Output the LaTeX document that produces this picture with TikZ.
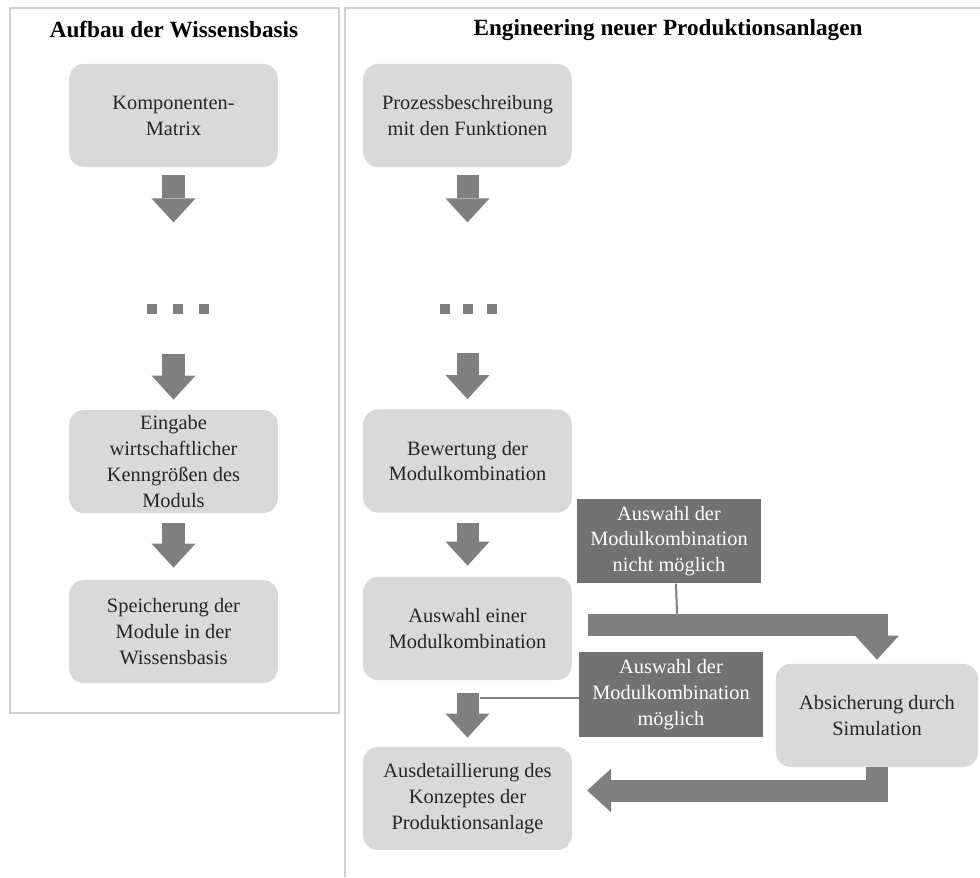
\documentclass[tikz,border=0pt]{standalone}
\usepackage{fontspec}
\setmainfont{Liberation Serif}
\usetikzlibrary{arrows.meta,calc}

\definecolor{boxfill}{HTML}{D9D9D9}
\definecolor{boxtext}{HTML}{262626}
\definecolor{hinweisfill}{HTML}{727272}
\definecolor{pfeilfill}{HTML}{7F7F7F}
\definecolor{rahmenline}{HTML}{D0D0D0}

\tikzset{
	schritt/.style={fill=boxfill, rounded corners=0.38cm, minimum width=5.22cm, minimum height=2.58cm, align=center, text=boxtext, font=\fontsize{14.5}{18.4}\selectfont},
	hinweis/.style={fill=hinweisfill, minimum width=4.6cm, minimum height=2.12cm, align=center, text=white, font=\fontsize{14.5}{18.4}\selectfont},
	titel/.style={font=\bfseries\fontsize{16.5}{20}\selectfont},
	pfeil/.style={draw=pfeilfill, line width=0.55cm, -{Triangle[width=1.1cm,length=0.6cm,line width=0pt]}},
	punkt/.style={fill=pfeilfill, minimum size=0.27cm, inner sep=0pt},
	linie/.style={draw=pfeilfill, line width=0.05cm},
	rahmen/.style={draw=rahmenline, line width=0.05cm}
}

\begin{document}
\begin{tikzpicture}[x=0.025cm, y=-0.025cm]
		\useasboundingbox (0, 0) rectangle (980, 877);
		\draw[rahmen] (10, 8) rectangle (339, 713);
		\draw[rahmen] (345, 877) -- (345, 8) -- (980, 8);

		\node[titel] (tlinks) at (174, 30) {Aufbau der Wissensbasis};
		\node[titel] (trechts) at (668, 30) {Engineering neuer Produktionsanlagen};

		\node[schritt] (komp) at (173.5, 115.5) {Komponenten-\\Matrix};
		\node[schritt] (eingabe) at (173.5, 461.5) {Eingabe\\wirtschaftlicher\\Kenngrößen des\\Moduls};
		\node[schritt] (speicher) at (173.5, 631.5) {Speicherung der\\Module in der\\Wissensbasis};

		\node[schritt] (prozess) at (467.5, 115.5) {Prozessbeschreibung\\mit den Funktionen};
		\node[schritt] (bewert) at (467.5, 461) {Bewertung der\\Modulkombination};
		\node[schritt] (auswahl) at (467.5, 628.5) {Auswahl einer\\Modulkombination};
		\node[schritt] (ausdet) at (467.5, 798.5) {Ausdetaillierung des\\Konzeptes der\\Produktionsanlage};
		\node[schritt, minimum width=5.05cm] (sim) at (877, 715.5) {Absicherung durch\\Simulation};

		\node[hinweis] (nicht) at (669, 541) {Auswahl der\\Modulkombination\\nicht möglich};
		\node[hinweis] (moegl) at (671, 694.5) {Auswahl der\\Modulkombination\\möglich};

		\foreach \x [count=\i] in {152, 178, 204}
			\node[punkt] (pl\i) at (\x, 309) {};
		\foreach \x [count=\i] in {445, 468, 492}
			\node[punkt] (pr\i) at (\x, 309) {};

		\draw[pfeil] ($(komp.south)+(0, 8)$) -- ++(0, 47);
		\draw[pfeil] ($(eingabe.north)+(0, -56)$) -- ($(eingabe.north)+(0, -10)$);
		\draw[pfeil] ($(eingabe.south)+(0, 10)$) -- ($(speicher.north)+(0, -12)$);

		\draw[pfeil] ($(prozess.south)+(0, 8)$) -- ++(0, 47);
		\draw[pfeil] ($(bewert.north)+(0, -56)$) -- ($(bewert.north)+(0, -10)$);
		\draw[pfeil] ($(bewert.south)+(0, 10)$) -- ($(auswahl.north)+(0, -11)$);
		\draw[pfeil] ($(auswahl.south)+(0, 13)$) -- ($(ausdet.north)+(0, -9)$);

		\draw[pfeil] ($(auswahl.east)+(16, -4)$) -| ($(sim.north)+(0, -4)$);
		\draw[pfeil] (sim.south) |- ($(ausdet.east)+(15, -8)$);

		\draw[linie] ($(nicht.south)+(7, 0)$) -- ++(1, 30);
		\draw[linie] ($(moegl.west)+(0, 3)$) -- ++(-99, 0);
	\end{tikzpicture}
\end{document}
